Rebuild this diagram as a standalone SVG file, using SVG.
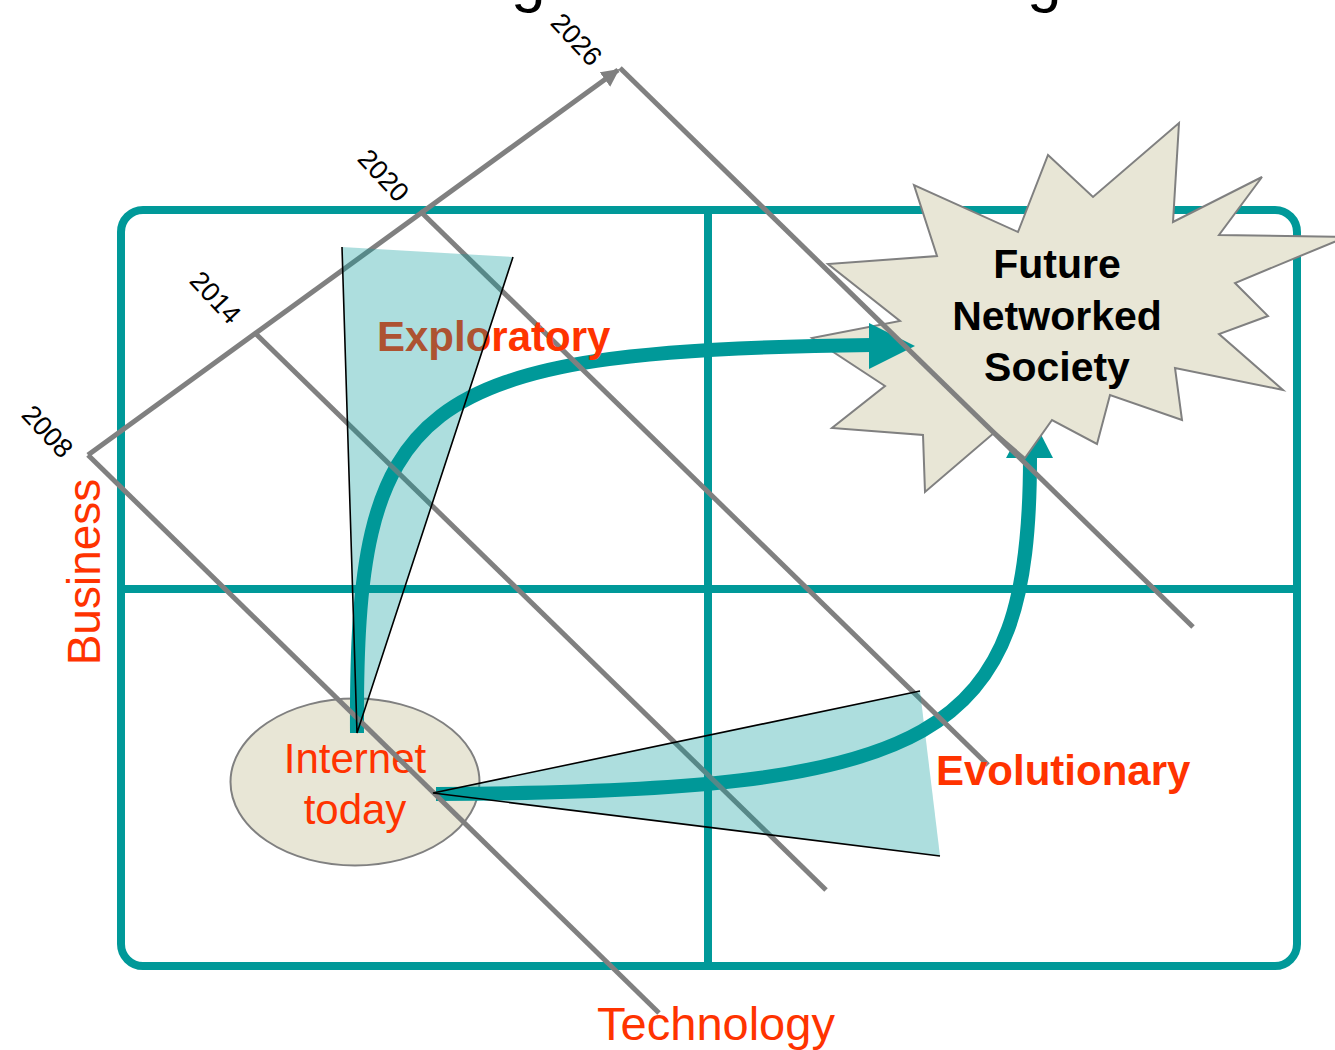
<svg xmlns="http://www.w3.org/2000/svg" width="1335" height="1050" viewBox="0 0 1335 1050">
<defs>
<style>
.frame{fill:none;stroke:#009999;stroke-width:8}
.grid{stroke:#009999;stroke-width:8}
.yr{stroke:#808080;stroke-width:5;fill:none}
.flow{fill:none;stroke:#009999;stroke-width:14}
.head{fill:#009999}
.fan{fill:#009999;fill-opacity:0.32;stroke:none}
.edge{stroke:#000;stroke-width:1.6;fill:none}
.lbl{font-family:"Liberation Sans",Arial,sans-serif;fill:#FF3300}
.year{font-family:"Liberation Sans",Arial,sans-serif;font-size:27px;fill:#000}
.bold{font-weight:bold}
</style>
<marker id="ah" viewBox="0 0 10 10" refX="9" refY="5" markerWidth="3.6" markerHeight="3.6" orient="auto" markerUnits="strokeWidth">
<path d="M0,0 L10,5 L0,10 z" fill="#808080"/>
</marker>
</defs>
<rect width="1335" height="1050" fill="#fff"/>
<g id="title-fragments">
<text x="511" y="0" font-family="Liberation Sans,Arial,sans-serif" font-size="62" fill="#000">g</text>
<text x="1027" y="0" font-family="Liberation Sans,Arial,sans-serif" font-size="62" fill="#000">g</text>
</g>
<g id="quadrants">
<rect class="frame" x="121" y="210" width="1176" height="756" rx="22"/>
<line class="grid" x1="708" y1="210" x2="708" y2="966"/>
<line class="grid" x1="121" y1="589" x2="1297" y2="589"/>
</g>
<g id="internet-today">
<ellipse cx="355" cy="782" rx="124.5" ry="83.5" fill="#E8E6D6" stroke="#808080" stroke-width="2"/>
<text class="lbl" x="355" y="773" font-size="42" text-anchor="middle">Internet</text>
<text class="lbl" x="355" y="824" font-size="42" text-anchor="middle">today</text>
</g>
<g id="connectors-under">
<path class="flow" d="M436,794 C940,792 1030,740 1030,458"/>
<polygon class="head" points="1006,458 1053,458 1030,413"/>
</g>
<g id="future-networked-society">
<polygon fill="#E8E6D6" stroke="#808080" stroke-width="2" points="1179,123 1173,222 1262,177 1219,235 1346,237 1235,283 1268,316 1219,334 1283,390 1175,368 1182,420 1110,395 1097,444 1052,420 1025,458 995,432 925,492 923,435 832,428 885,386 812,338 900,321 828,264 937,256 914,185 1018,232 1048,155 1093,197"/>
<text x="1057" y="278" font-family="Liberation Sans,Arial,sans-serif" font-size="41" font-weight="bold" text-anchor="middle" fill="#000">Future</text>
<text x="1057" y="330" font-family="Liberation Sans,Arial,sans-serif" font-size="41" font-weight="bold" text-anchor="middle" fill="#000">Networked</text>
<text x="1057" y="381" font-family="Liberation Sans,Arial,sans-serif" font-size="41" font-weight="bold" text-anchor="middle" fill="#000">Society</text>
</g>
<g id="connectors">
<path class="flow" d="M357,733 C355,400 410,350 872,345"/>
<polygon class="head" points="869,323 869,369 915,346"/>
</g>
<g id="timeline">
<line class="yr" x1="88" y1="455" x2="618" y2="70" marker-end="url(#ah)"/>
<line class="yr" x1="88" y1="455" x2="659" y2="1013"/>
<line class="yr" x1="255" y1="333" x2="826" y2="890"/>
<line class="yr" x1="420" y1="211" x2="988" y2="765"/>
<line class="yr" x1="620" y1="68" x2="1193" y2="627"/>
<text class="year" transform="translate(48,431) rotate(47)" text-anchor="middle" y="10">2008</text>
<text class="year" transform="translate(216,297) rotate(47)" text-anchor="middle" y="10">2014</text>
<text class="year" transform="translate(384,175) rotate(47)" text-anchor="middle" y="10">2020</text>
<text class="year" transform="translate(577,39) rotate(47)" text-anchor="middle" y="10">2026</text>
</g>
<g id="axis-labels">
<text class="lbl" transform="translate(100,572) rotate(-90)" font-size="46" text-anchor="middle">Business</text>
<text class="lbl" x="716" y="1040" font-size="47" text-anchor="middle">Technology</text>
</g>
<g id="exploratory">
<text class="lbl bold" x="377" y="351" font-size="42">Exploratory</text>
<polygon class="fan" points="357,733 342,247 513,257"/>
<polyline class="edge" points="342,247 357,733 513,257"/>
</g>
<g id="evolutionary">
<text class="lbl bold" x="936" y="785" font-size="42">Evolutionary</text>
<polygon class="fan" points="433,793 920,691 940,856"/>
<polyline class="edge" points="920,691 433,793 940,856"/>
</g>
</svg>
